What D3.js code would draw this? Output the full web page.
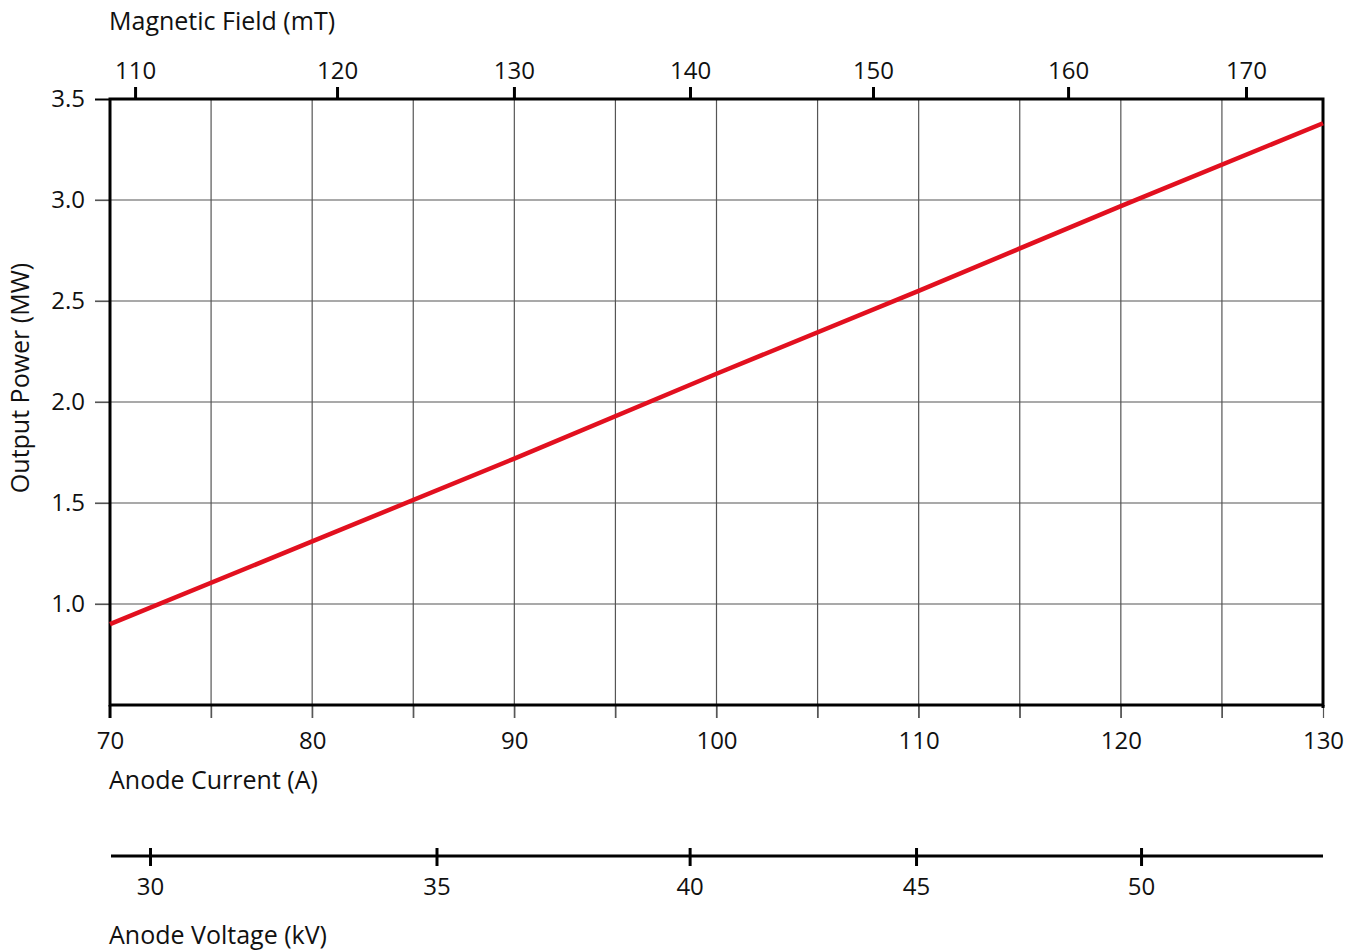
<!DOCTYPE html>
<html>
    <head>
        <title>Output Power vs Anode Current</title>
        <script src="https://d3js.org/d3.v7.min.js"></script>
        <style>
            body { margin: 0; background: #fff; }
            text { font-family: "Open Sans", sans-serif; fill: #111; }
        </style>
    </head>
    <body>
        <script>
            // anode current (A) vs output power (MW)
            const current = [70, 80, 90, 100, 110, 120, 130];
            const power = [0.90, 1.31, 1.72, 2.14, 2.55, 2.97, 3.38];

            const currentTicks = [70, 75, 80, 85, 90, 95, 100, 105, 110, 115, 120, 125, 130];
            const powerTicks = [1.0, 1.5, 2.0, 2.5, 3.0, 3.5];

            // magnetic field ticks and the anode current each one sits over
            const fieldTicks = [110, 120, 130, 140, 150, 160, 170];
            const fieldAtCurrent = [71.24, 81.23, 89.98, 98.69, 107.74, 117.39, 126.19];

            // anode voltage ticks and the anode current each one sits under
            const voltageTicks = [30, 35, 40, 45, 50];
            const voltageAtCurrent = [71.98, 86.15, 98.67, 109.87, 121.0];

            const width = 1360;
            const height = 950;
            const margin = {top: 99, right: 37, bottom: 245, left: 110};
            const w = width - margin.left - margin.right;
            const h = height - margin.top - margin.bottom;

            const svg = d3.select("body")
                .append("svg")
                .attr("width", width)
                .attr("height", height);

            const g = svg.append("g")
                .attr("transform", `translate(${margin.left},${margin.top})`);

            const x = d3.scaleLinear().domain([70, 130]).range([0, w]);
            const y = d3.scaleLinear().domain([0.5, 3.5]).range([h, 0]);

            const fieldX = d3.scaleLinear()
                .domain(fieldTicks)
                .range(fieldAtCurrent.map(x));
            const voltX = d3.scaleLinear()
                .domain(voltageTicks)
                .range(voltageAtCurrent.map(x));

            // grid
            g.append("g")
                .selectAll("line")
                .data(currentTicks.slice(1, -1))
                .enter()
                .append("line")
                .attr("x1", d => x(d)).attr("x2", d => x(d))
                .attr("y1", 0).attr("y2", h + 13)
                .attr("stroke", "#555").attr("stroke-width", 1.2);

            g.append("g")
                .selectAll("line")
                .data(powerTicks.slice(0, -1))
                .enter()
                .append("line")
                .attr("x1", -15).attr("x2", w)
                .attr("y1", d => y(d)).attr("y2", d => y(d))
                .attr("stroke", "#555").attr("stroke-width", 1.2);

            // left axis labels
            const yAxis = g.append("g")
                .call(d3.axisLeft(y).tickValues(powerTicks).tickSize(15).tickPadding(10).tickFormat(d3.format(".1f")));
            yAxis.select(".domain").remove();
            yAxis.selectAll("line").attr("stroke", "#555").attr("stroke-width", 1.2);
            yAxis.selectAll("text").style("font-size", "24px").attr("font-family", null);
            yAxis.select(".tick:last-of-type line").attr("stroke", "#000").attr("stroke-width", 2);

            // bottom axis (anode current)
            const xAxis = g.append("g")
                .attr("transform", `translate(0,${h})`)
                .call(d3.axisBottom(x).tickValues(currentTicks).tickSize(13).tickPadding(14)
                    .tickFormat(d => d % 10 === 0 ? d : ""));
            xAxis.select(".domain").remove();
            xAxis.selectAll("line").attr("stroke", "#555").attr("stroke-width", 1.2);
            xAxis.selectAll("text").style("font-size", "24px").attr("font-family", null);

            // frame
            g.append("rect")
                .attr("width", w).attr("height", h)
                .attr("fill", "none").attr("stroke", "#000").attr("stroke-width", 3);
            g.append("line")
                .attr("x1", 0).attr("x2", 0).attr("y1", h).attr("y2", h + 13)
                .attr("stroke", "#000").attr("stroke-width", 3);
            g.append("line")
                .attr("x1", w).attr("x2", w).attr("y1", h).attr("y2", h + 3)
                .attr("stroke", "#000").attr("stroke-width", 3);

            // top axis (magnetic field)
            const fieldAxis = g.append("g")
                .call(d3.axisTop(fieldX).tickValues(fieldTicks).tickSize(12).tickPadding(8).tickSizeOuter(0));
            fieldAxis.select(".domain").remove();
            fieldAxis.selectAll("line").attr("stroke", "#000").attr("stroke-width", 3);
            fieldAxis.selectAll("text").style("font-size", "24px").attr("font-family", null);

            // anode voltage axis
            const voltAxis = g.append("g")
                .attr("transform", `translate(0,${h + 151})`)
                .call(d3.axisBottom(voltX).tickValues(voltageTicks).tickSize(10).tickPadding(12).tickSizeOuter(0));
            voltAxis.select(".domain").remove();
            voltAxis.append("line")
                .attr("x1", 1).attr("x2", w)
                .attr("stroke", "#000").attr("stroke-width", 3);
            voltAxis.selectAll(".tick line").attr("y1", -8).attr("stroke", "#000").attr("stroke-width", 3);
            voltAxis.selectAll("text").style("font-size", "24px").attr("font-family", null);

            // data line
            const line = d3.line()
                .x((d, i) => x(current[i]))
                .y(d => y(d));

            g.append("path")
                .datum(power)
                .attr("fill", "none")
                .attr("stroke", "#e2101f")
                .attr("stroke-width", 4.5)
                .attr("d", line);

            // titles
            svg.append("text")
                .attr("x", 109).attr("y", 30)
                .style("font-size", "25px")
                .text("Magnetic Field (mT)");

            svg.append("text")
                .attr("x", 109).attr("y", 789)
                .style("font-size", "25px")
                .text("Anode Current (A)");

            svg.append("text")
                .attr("x", 109).attr("y", 944)
                .style("font-size", "25px")
                .text("Anode Voltage (kV)");

            svg.append("text")
                .attr("transform", "translate(29,378) rotate(-90)")
                .attr("text-anchor", "middle")
                .style("font-size", "25px")
                .text("Output Power (MW)");
        </script>
    </body>
</html>
